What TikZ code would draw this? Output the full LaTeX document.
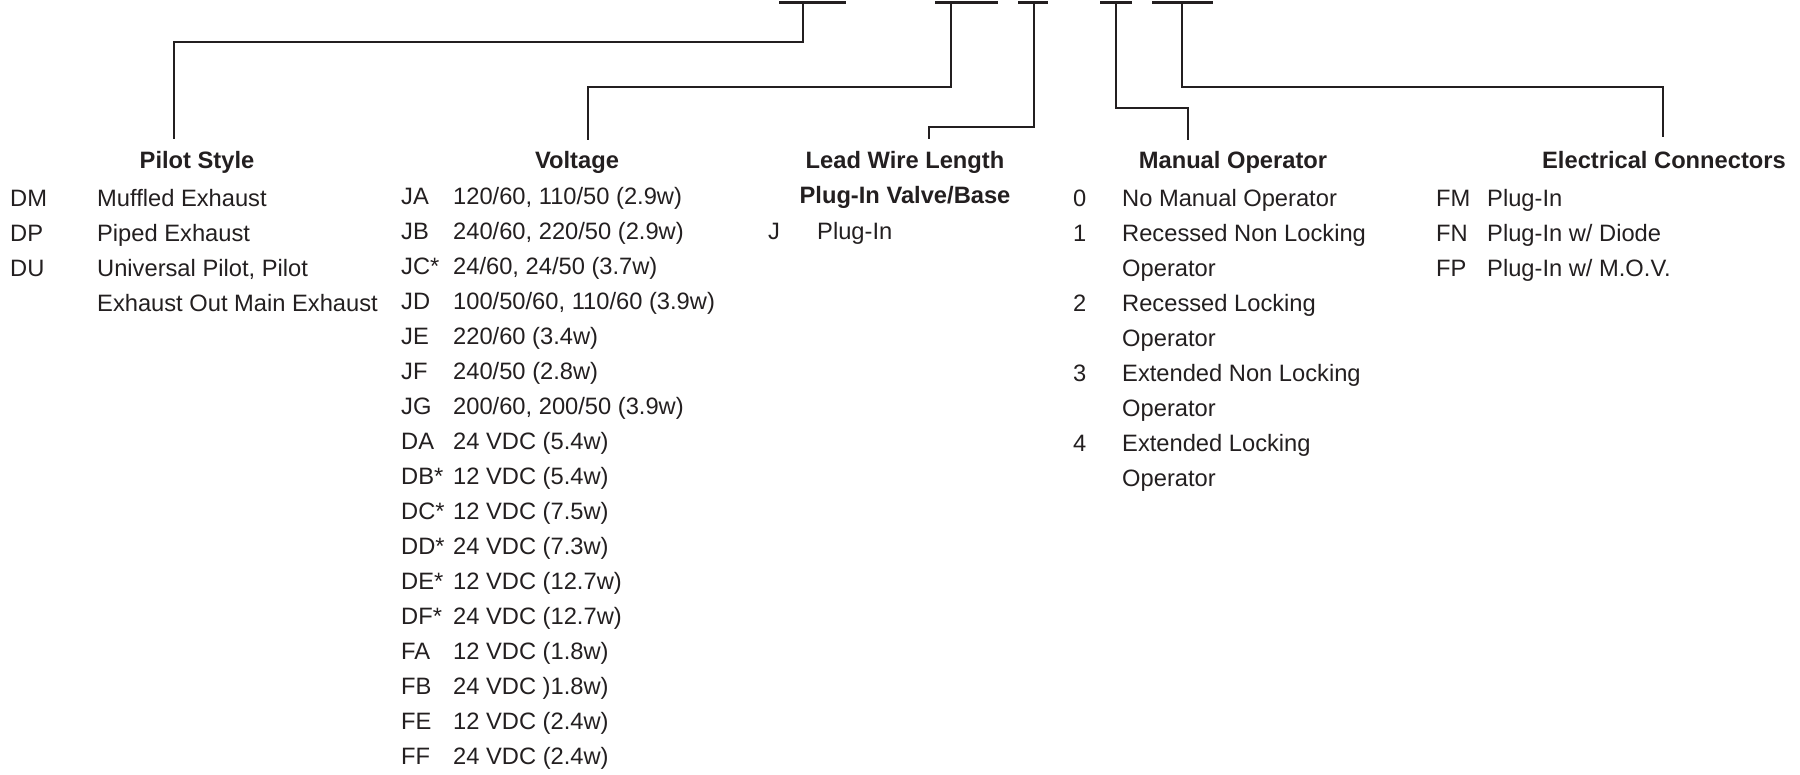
\documentclass[tikz,border=0pt]{standalone}
\usepackage{fontspec}
\setmainfont{Liberation Sans}
\usepackage{tikz}
\usetikzlibrary{positioning}
\definecolor{ink}{HTML}{231F20}

\begin{document}
\begin{tikzpicture}[
    x=1pt, y=-1pt,
    every node/.style={font=\fontsize{23.7}{35}\selectfont, text=ink, inner sep=0pt},
    heading/.style={anchor=base, font=\fontsize{23.7}{35}\selectfont\bfseries},
    list/.style={anchor=base west},
    bar/.style={line width=3pt, color=ink},
    wire/.style={line width=2.3pt, color=ink}
]
\useasboundingbox (0,0) rectangle (1800,775);

% code bars along the top
\coordinate (b1l) at (779,3);  \coordinate (b1r) at (846,3);  \coordinate (s1) at (803,3);
\coordinate (b2l) at (935,3);  \coordinate (b2r) at (998,3);  \coordinate (s2) at (951,3);
\coordinate (b3l) at (1018,3); \coordinate (b3r) at (1048,3); \coordinate (s3) at (1034,3);
\coordinate (b4l) at (1100,3); \coordinate (b4r) at (1132,3); \coordinate (s4) at (1116,3);
\coordinate (b5l) at (1152,3); \coordinate (b5r) at (1213,3); \coordinate (s5) at (1182,3);

\draw[bar] (b1l) -- (b1r);
\draw[bar] (b2l) -- (b2r);
\draw[bar] (b3l) -- (b3r);
\draw[bar] (b4l) -- (b4r);
\draw[bar] (b5l) -- (b5r);

% knees and line ends above the headings
\coordinate (kpilot) at (174,42);   \coordinate (epilot) at (174,139);
\coordinate (kvolt) at (588,87);    \coordinate (evolt) at (588,140);
\coordinate (klead) at (929,127);   \coordinate (elead) at (929,139);
\coordinate (kmanual) at (1188,108); \coordinate (emanual) at (1188,140);
\coordinate (kelec) at (1663,87);   \coordinate (eelec) at (1663,137);

\draw[wire] (s1) |- (kpilot) -- (epilot);
\draw[wire] (s2) |- (kvolt) -- (evolt);
\draw[wire] (s3) |- (klead) -- (elead);
\draw[wire] (s4) |- (kmanual) -- (emanual);
\draw[wire] (s5) |- (kelec) -- (eelec);

% headings
\node[heading] (pilothead) at (197,169) {Pilot Style};
\node[heading] (volthead) at (577,169) {Voltage};
\node[heading] (leadhead) at (905,169) {\begin{tabular}[t]{@{}c@{}}Lead Wire Length\\ Plug-In Valve/Base\end{tabular}};
\node[heading] (manualhead) at (1233,169) {Manual Operator};
\node[heading] (elechead) at (1664,169) {Electrical Connectors};

% option lists
\node[list] (pilotlist) at (10,207) {\begin{tabular}[t]{@{}p{87pt}@{}l@{}}
DM & Muffled Exhaust\\
DP & Piped Exhaust\\
DU & Universal Pilot, Pilot\\
   & Exhaust Out Main Exhaust
\end{tabular}};

\node[list] (voltlist) at (401,205) {\begin{tabular}[t]{@{}p{52pt}@{}l@{}}
JA & 120/60, 110/50 (2.9w)\\
JB & 240/60, 220/50 (2.9w)\\
JC* & 24/60, 24/50 (3.7w)\\
JD & 100/50/60, 110/60 (3.9w)\\
JE & 220/60 (3.4w)\\
JF & 240/50 (2.8w)\\
JG & 200/60, 200/50 (3.9w)\\
DA & 24 VDC (5.4w)\\
DB* & 12 VDC (5.4w)\\
DC* & 12 VDC (7.5w)\\
DD* & 24 VDC (7.3w)\\
DE* & 12 VDC (12.7w)\\
DF* & 24 VDC (12.7w)\\
FA & 12 VDC (1.8w)\\
FB & 24 VDC )1.8w)\\
FE & 12 VDC (2.4w)\\
FF & 24 VDC (2.4w)
\end{tabular}};

\node[list] (leadlist) at (768,240) {\begin{tabular}[t]{@{}p{49pt}@{}l@{}}
J & Plug-In
\end{tabular}};

\node[list] (manuallist) at (1073,207) {\begin{tabular}[t]{@{}p{49pt}@{}l@{}}
0 & No Manual Operator\\
1 & Recessed Non Locking\\
  & Operator\\
2 & Recessed Locking\\
  & Operator\\
3 & Extended Non Locking\\
  & Operator\\
4 & Extended Locking\\
  & Operator
\end{tabular}};

\node[list] (eleclist) at (1436,207) {\begin{tabular}[t]{@{}p{51pt}@{}l@{}}
FM & Plug-In\\
FN & Plug-In w/ Diode\\
FP & Plug-In w/ M.O.V.
\end{tabular}};

\end{tikzpicture}
\end{document}
